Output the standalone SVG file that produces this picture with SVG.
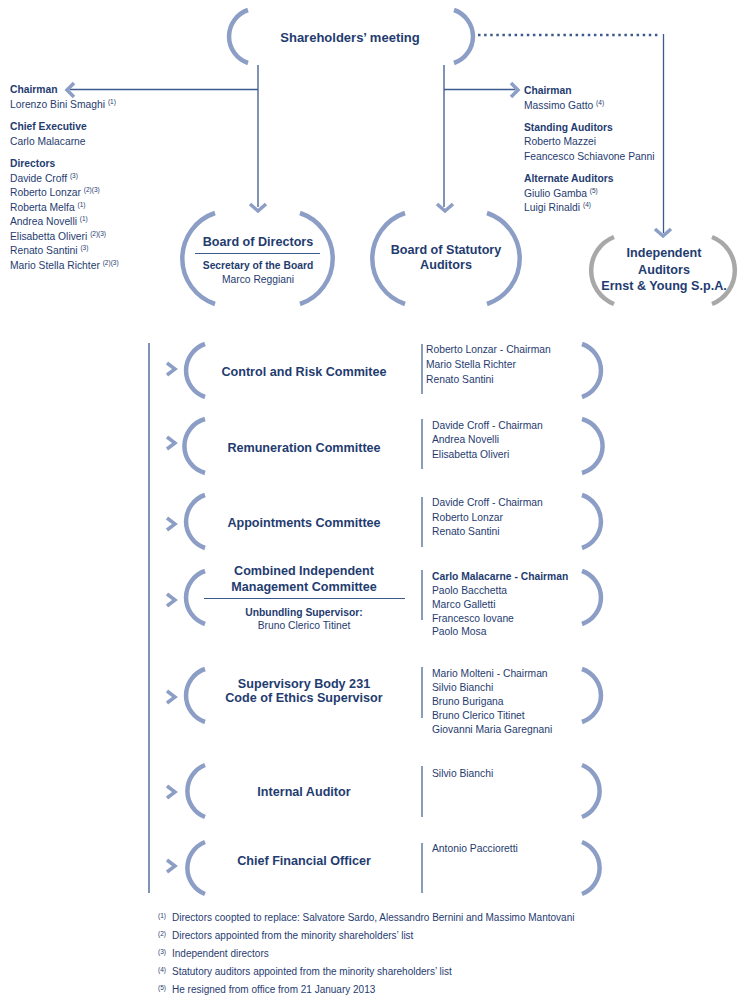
<svg xmlns="http://www.w3.org/2000/svg" width="750" height="1003" viewBox="0 0 750 1003">
<style>
text{font-family:"Liberation Sans",Arial,sans-serif;fill:#1f3c70}
.t{font-size:12.6px;font-weight:bold;text-anchor:middle}
.h{font-size:10.3px;font-weight:bold}
.n{font-size:10.3px}
.c{text-anchor:middle}
.s{font-size:6.5px}
.arc{fill:none;stroke:#8c9ec6;stroke-width:4.5}
.garc{fill:none;stroke:#a8a8a8;stroke-width:4.5}
.ln{fill:none;stroke:#3c5a8e;stroke-width:1.3}
.chev{fill:none;stroke:#8c9ec6;stroke-width:3.5;stroke-linejoin:miter}
.dot{fill:none;stroke:#3c5a8e;stroke-width:2.5;stroke-dasharray:2.5 3.6}
.div{fill:none;stroke:#3c5a8e;stroke-width:1.2}
</style>
<rect width="750" height="1003" fill="#ffffff"/>

<g id="connectors">
<line class="ln" x1="258" y1="65" x2="258" y2="207"/>
<line class="ln" x1="258" y1="89.5" x2="70" y2="89.5"/>
<polyline class="chev" points="74,83 67,90 74,97"/>
<polyline class="chev" points="250,204 258,211 266,204"/>
<line class="ln" x1="444" y1="65" x2="444" y2="207"/>
<line class="ln" x1="444" y1="89.5" x2="515" y2="89.5"/>
<polyline class="chev" points="511,83 518,90 511,97"/>
<polyline class="chev" points="437,204 445,211 453,204"/>
<line class="dot" x1="478" y1="35" x2="660" y2="35"/>
<line class="ln" x1="663.5" y1="34" x2="663.5" y2="233"/>
<polyline class="chev" points="655,229 663,236 671,229"/>
<line class="ln" x1="149" y1="343" x2="149" y2="893"/>
<polyline class="chev" points="167,363 175,369 167,375"/>
<polyline class="chev" points="167,437 175,443 167,449"/>
<polyline class="chev" points="167,518 175,524 167,530"/>
<polyline class="chev" points="167,594 175,600 167,606"/>
<polyline class="chev" points="167,691 175,697 167,703"/>
<polyline class="chev" points="167,786 175,792 167,798"/>
<polyline class="chev" points="167,860 175,866 167,872"/>
</g>

<g id="shareholders">
<path class="arc" d="M248,10 A28,28 0 0 0 248,63"/>
<path class="arc" d="M454,10 A28,28 0 0 1 454,63"/>
<text class="t" x="350" y="42" style="font-size:13px">Shareholders’ meeting</text>
</g>

<g id="board-directors-members">
<text class="h" x="10" y="93">Chairman</text>
<text class="n" x="10" y="108">Lorenzo Bini Smaghi <tspan class="s" dy="-4">(1)</tspan></text>
<text class="h" x="10" y="130">Chief Executive</text>
<text class="n" x="10" y="145">Carlo Malacarne</text>
<text class="h" x="10" y="167">Directors</text>
<text class="n" x="10" y="181.5">Davide Croff <tspan class="s" dy="-4">(3)</tspan></text>
<text class="n" x="10" y="196">Roberto Lonzar <tspan class="s" dy="-4">(2)(3)</tspan></text>
<text class="n" x="10" y="210.5">Roberta Melfa <tspan class="s" dy="-4">(1)</tspan></text>
<text class="n" x="10" y="225">Andrea Novelli <tspan class="s" dy="-4">(1)</tspan></text>
<text class="n" x="10" y="239.5">Elisabetta Oliveri <tspan class="s" dy="-4">(2)(3)</tspan></text>
<text class="n" x="10" y="254">Renato Santini <tspan class="s" dy="-4">(3)</tspan></text>
<text class="n" x="10" y="268.5">Mario Stella Richter <tspan class="s" dy="-4">(2)(3)</tspan></text>
</g>

<g id="statutory-members">
<text class="h" x="524" y="94">Chairman</text>
<text class="n" x="524" y="109">Massimo Gatto <tspan class="s" dy="-4">(4)</tspan></text>
<text class="h" x="524" y="131">Standing Auditors</text>
<text class="n" x="524" y="145">Roberto Mazzei</text>
<text class="n" x="524" y="160">Feancesco Schiavone Panni</text>
<text class="h" x="524" y="182">Alternate Auditors</text>
<text class="n" x="524" y="197">Giulio Gamba <tspan class="s" dy="-4">(5)</tspan></text>
<text class="n" x="524" y="211">Luigi Rinaldi <tspan class="s" dy="-4">(4)</tspan></text>
</g>

<g id="board-of-directors">
<path class="arc" d="M215,213 A48,48 0 0 0 215,304"/>
<path class="arc" d="M300,213 A48,48 0 0 1 300,304"/>
<text class="t" x="258" y="246">Board of Directors</text>
<line class="div" x1="195" y1="253.5" x2="320" y2="253.5"/>
<text class="h c" x="258" y="269">Secretary of the Board</text>
<text class="n c" x="258" y="283">Marco Reggiani</text>
</g>

<g id="board-of-statutory-auditors">
<path class="arc" d="M405,213 A48,48 0 0 0 405,304"/>
<path class="arc" d="M487,213 A48,48 0 0 1 487,304"/>
<text class="t" x="446" y="254">Board of Statutory</text>
<text class="t" x="446" y="269">Auditors</text>
</g>

<g id="independent-auditors">
<path class="garc" d="M614,237 A36,36 0 0 0 614,304"/>
<path class="garc" d="M712,237 A36,36 0 0 1 712,304"/>
<text class="t" x="664" y="257">Independent</text>
<text class="t" x="664" y="274">Auditors</text>
<text class="t" x="664" y="290">Ernst &amp; Young S.p.A.</text>
</g>

<g id="control-risk">
<path class="arc" d="M205,344 A28,28 0 0 0 205,397"/>
<path class="arc" d="M582,344 A28,28 0 0 1 582,397"/>
<text class="t" x="304" y="376">Control and Risk Commitee</text>
<line class="div" x1="422" y1="344" x2="422" y2="394"/>
<text class="n" x="426" y="353">Roberto Lonzar - Chairman</text>
<text class="n" x="426" y="368">Mario Stella Richter</text>
<text class="n" x="426" y="383">Renato Santini</text>
</g>

<g id="remuneration">
<path class="arc" d="M205,419 A28,28 0 0 0 205,473"/>
<path class="arc" d="M582,419 A28,28 0 0 1 582,473"/>
<text class="t" x="304" y="452">Remuneration Committee</text>
<line class="div" x1="422" y1="419" x2="422" y2="469"/>
<text class="n" x="432" y="429">Davide Croff - Chairman</text>
<text class="n" x="432" y="443">Andrea Novelli</text>
<text class="n" x="432" y="458">Elisabetta Oliveri</text>
</g>

<g id="appointments">
<path class="arc" d="M205,495 A28,28 0 0 0 205,548"/>
<path class="arc" d="M582,495 A28,28 0 0 1 582,548"/>
<text class="t" x="304" y="527">Appointments Committee</text>
<line class="div" x1="422" y1="497" x2="422" y2="547"/>
<text class="n" x="432" y="506">Davide Croff - Chairman</text>
<text class="n" x="432" y="521">Roberto Lonzar</text>
<text class="n" x="432" y="535">Renato Santini</text>
</g>

<g id="combined-independent">
<path class="arc" d="M205,571 A28,28 0 0 0 205,624"/>
<path class="arc" d="M582,571 A28,28 0 0 1 582,624"/>
<text class="t" x="304" y="575">Combined Independent</text>
<text class="t" x="304" y="591">Management Committee</text>
<line class="div" x1="204" y1="598.5" x2="405" y2="598.5"/>
<text class="h c" x="304" y="616">Unbundling Supervisor:</text>
<text class="n c" x="304" y="629">Bruno Clerico Titinet</text>
<line class="div" x1="422" y1="570" x2="422" y2="620"/>
<text class="h" x="432" y="580">Carlo Malacarne - Chairman</text>
<text class="n" x="432" y="594">Paolo Bacchetta</text>
<text class="n" x="432" y="608">Marco Galletti</text>
<text class="n" x="432" y="621.5">Francesco Iovane</text>
<text class="n" x="432" y="635">Paolo Mosa</text>
</g>

<g id="supervisory-body">
<path class="arc" d="M205,669 A28,28 0 0 0 205,722"/>
<path class="arc" d="M582,669 A28,28 0 0 1 582,722"/>
<text class="t" x="304" y="688">Supervisory Body 231</text>
<text class="t" x="304" y="702">Code of Ethics Supervisor</text>
<line class="div" x1="422" y1="667" x2="422" y2="718"/>
<text class="n" x="432" y="677">Mario Molteni - Chairman</text>
<text class="n" x="432" y="691">Silvio Bianchi</text>
<text class="n" x="432" y="705">Bruno Burigana</text>
<text class="n" x="432" y="719">Bruno Clerico Titinet</text>
<text class="n" x="432" y="733">Giovanni Maria Garegnani</text>
</g>

<g id="internal-auditor">
<path class="arc" d="M205,765 A28,28 0 0 0 205,817"/>
<path class="arc" d="M582,765 A28,28 0 0 1 582,817"/>
<text class="t" x="304" y="796">Internal Auditor</text>
<line class="div" x1="422" y1="766" x2="422" y2="817"/>
<text class="n" x="432" y="777">Silvio Bianchi</text>
</g>

<g id="cfo">
<path class="arc" d="M205,842 A28,28 0 0 0 205,894"/>
<path class="arc" d="M582,842 A28,28 0 0 1 582,894"/>
<text class="t" x="304" y="865">Chief Financial Officer</text>
<line class="div" x1="422" y1="843" x2="422" y2="893"/>
<text class="n" x="432" y="852">Antonio Paccioretti</text>
</g>

<g id="footnotes">
<text class="s" x="158" y="918">(1)</text>
<text class="n" x="172" y="921" style="font-size:10px">Directors coopted to replace: Salvatore Sardo, Alessandro Bernini and Massimo Mantovani</text>
<text class="s" x="158" y="936">(2)</text>
<text class="n" x="172" y="939" style="font-size:10px">Directors appointed from the minority shareholders’ list</text>
<text class="s" x="158" y="954">(3)</text>
<text class="n" x="172" y="957" style="font-size:10px">Independent directors</text>
<text class="s" x="158" y="972">(4)</text>
<text class="n" x="172" y="975" style="font-size:10px">Statutory auditors appointed from the minority shareholders’ list</text>
<text class="s" x="158" y="990">(5)</text>
<text class="n" x="172" y="993" style="font-size:10px">He resigned from office from 21 January 2013</text>
</g>
</svg>
